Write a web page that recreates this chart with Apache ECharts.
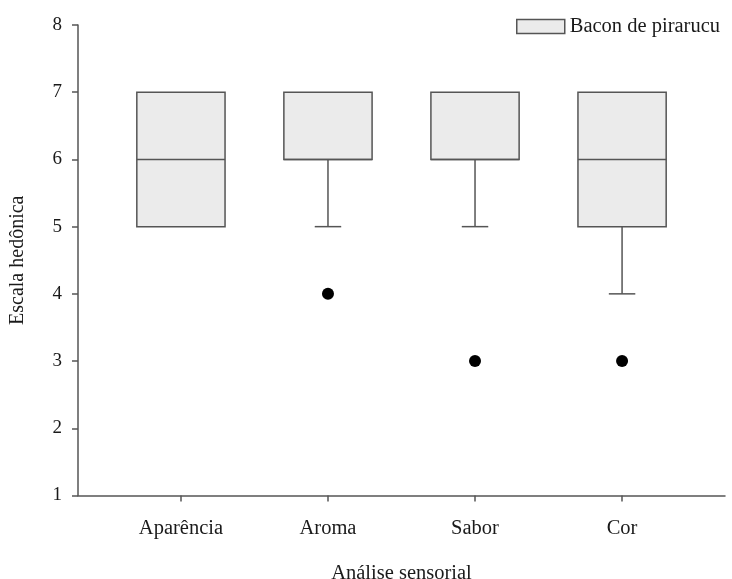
<!DOCTYPE html>
<html>
<head>
<meta charset="utf-8">
<script src="https://cdn.jsdelivr.net/npm/echarts@6/dist/echarts.min.js"></script>
<style>html,body{margin:0;padding:0;background:#fff}#c{width:732px;height:579px}</style>
</head>
<body>
<div id="c"></div>
<script>
const categories = ['Aparência', 'Aroma', 'Sabor', 'Cor'];
const lowWhisker = [5, 5, 5, 4];
const q1 = [5, 6, 6, 5];
const median = [6, 6, 6, 6];
const q3 = [7, 7, 7, 7];
const highWhisker = [7, 7, 7, 7];
const outliers = [[2, 4], [3, 3], [4, 3]]; // [category position, value]
const yTicks = [1, 2, 3, 4, 5, 6, 7, 8];

const boxData = categories.map((c, i) => [i + 1, lowWhisker[i], q1[i], median[i], q3[i], highWhisker[i]]);

const FONT = '"Liberation Serif", "DejaVu Serif", serif';
const TEXT = '#1a1a1a';
const LINE = '#555555';
const FILL = '#ebebeb';

const chart = echarts.init(document.getElementById('c'));
chart.setOption({
  animation: false,
  backgroundColor: '#fff',
  grid: { left: 78, right: 7, top: 25, bottom: 83.5, containLabel: false, outerBoundsMode: 'none' },
  legend: {
    left: 511, top: 11,
    itemWidth: 48, itemHeight: 14, itemGap: 11,
    textStyle: { fontFamily: FONT, fontSize: 20.5, color: TEXT },
    data: [{ name: 'Bacon de pirarucu', icon: 'rect', itemStyle: { color: FILL, borderColor: LINE, borderWidth: 1.5 } }]
  },
  xAxis: {
    type: 'value', min: 0.3, max: 4.7,
    name: 'Análise sensorial', nameLocation: 'middle', nameGap: 68,
    nameTextStyle: { fontFamily: FONT, fontSize: 20.5, color: TEXT },
    splitLine: { show: false },
    axisLine: { show: true, lineStyle: { color: LINE, width: 1.5 } },
    axisTick: { show: true, customValues: [1, 2, 3, 4], length: 6, lineStyle: { color: LINE, width: 1.5 } },
    axisLabel: { customValues: [1, 2, 3, 4], formatter: v => categories[Math.round(v) - 1] || '', margin: 23,
      fontFamily: FONT, fontSize: 20.5, color: TEXT }
  },
  yAxis: {
    type: 'value', min: 1, max: 8, interval: 1,
    name: 'Escala hedônica', nameLocation: 'middle', nameGap: 50, nameRotate: 90,
    nameTextStyle: { fontFamily: FONT, fontSize: 20, color: TEXT },
    splitLine: { show: false },
    axisLine: { show: true, lineStyle: { color: LINE, width: 1.5 } },
    axisTick: { show: true, length: 6, lineStyle: { color: LINE, width: 1.5 } },
    axisLabel: { margin: 16, fontFamily: FONT, fontSize: 19, color: TEXT,
      formatter: v => yTicks.includes(v) ? String(v) : '' }
  },
  series: [
    {
      name: 'Bacon de pirarucu',
      type: 'custom',
      itemStyle: { color: FILL, borderColor: LINE },
      encode: { x: 0, y: [1, 2, 3, 4, 5] },
      data: boxData,
      renderItem: function (params, api) {
        const x = api.value(0);
        const pLow = api.coord([x, api.value(1)]);
        const pQ1 = api.coord([x, api.value(2)]);
        const pMed = api.coord([x, api.value(3)]);
        const pQ3 = api.coord([x, api.value(4)]);
        const pHigh = api.coord([x, api.value(5)]);
        const bw = api.size([0.6, 0])[0];
        const cw = api.size([0.18, 0])[0];
        const ls = { stroke: LINE, lineWidth: 1.5, fill: null };
        const children = [];
        if (pLow[1] - pQ1[1] > 0.5) {
          children.push({ type: 'line', shape: { x1: pQ1[0], y1: pQ1[1], x2: pLow[0], y2: pLow[1] }, style: ls });
          children.push({ type: 'line', shape: { x1: pLow[0] - cw / 2, y1: pLow[1], x2: pLow[0] + cw / 2, y2: pLow[1] }, style: ls });
        }
        if (pQ3[1] - pHigh[1] > 0.5) {
          children.push({ type: 'line', shape: { x1: pQ3[0], y1: pQ3[1], x2: pHigh[0], y2: pHigh[1] }, style: ls });
          children.push({ type: 'line', shape: { x1: pHigh[0] - cw / 2, y1: pHigh[1], x2: pHigh[0] + cw / 2, y2: pHigh[1] }, style: ls });
        }
        children.push({ type: 'rect', shape: { x: pQ3[0] - bw / 2, y: pQ3[1], width: bw, height: pQ1[1] - pQ3[1] },
          style: { fill: FILL, stroke: LINE, lineWidth: 1.5 } });
        children.push({ type: 'line', shape: { x1: pMed[0] - bw / 2, y1: pMed[1], x2: pMed[0] + bw / 2, y2: pMed[1] }, style: ls });
        return { type: 'group', children: children };
      }
    },
    {
      name: 'Outliers',
      type: 'scatter',
      symbol: 'circle',
      symbolSize: 12,
      itemStyle: { color: '#000', opacity: 1 },
      data: outliers
    }
  ]
});
</script>
</body>
</html>
